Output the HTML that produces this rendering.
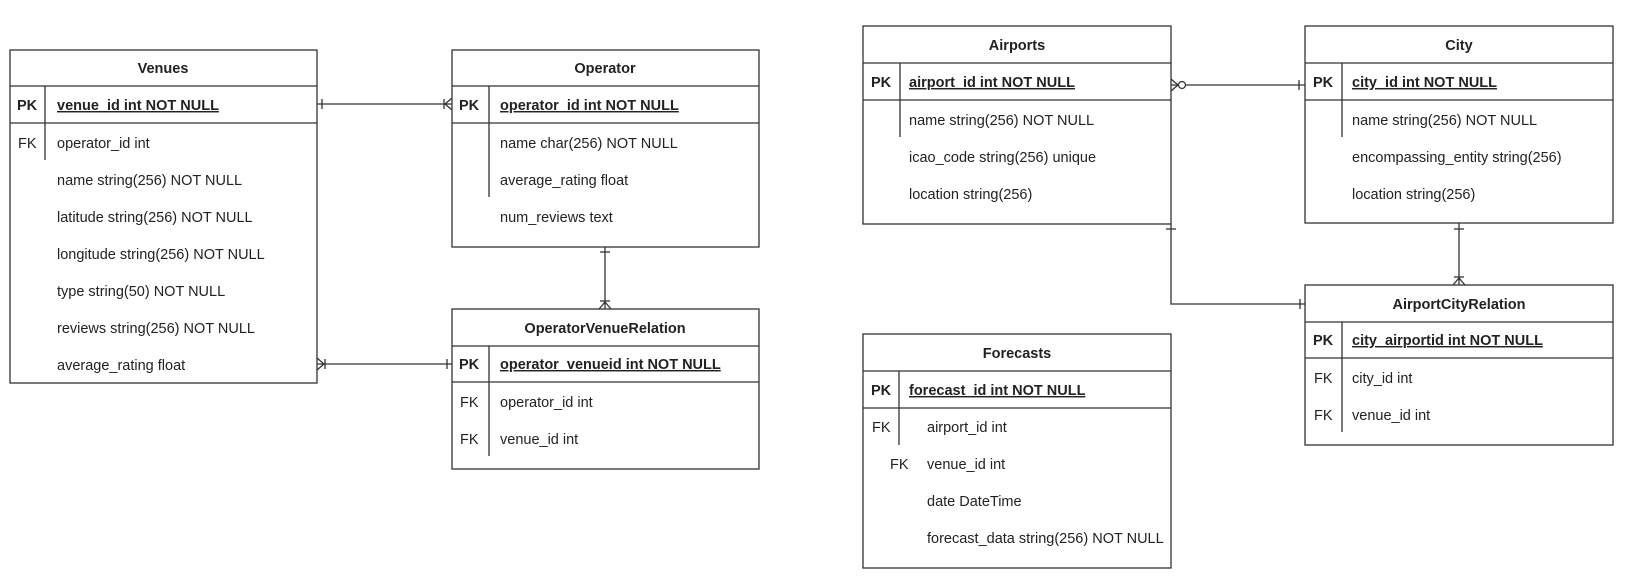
<!DOCTYPE html>
<html><head><meta charset="utf-8"><style>
html,body{margin:0;padding:0;background:#fff;}
svg{display:block;}
text{font-family:"Liberation Sans",Arial,sans-serif;font-size:14.5px;fill:#222;}
.b{font-weight:bold;}
.u{text-decoration:underline;}
</style></head><body>
<svg width="1638" height="580" viewBox="0 0 1638 580" xmlns="http://www.w3.org/2000/svg">
<g fill="none" stroke="#333" stroke-width="1.3">
<rect x="10" y="50" width="307" height="333"/>
<line x1="10" y1="86" x2="317" y2="86"/><line x1="10" y1="123" x2="317" y2="123"/>
<line x1="45" y1="86" x2="45" y2="160"/>
<rect x="452" y="50" width="307" height="197"/>
<line x1="452" y1="86" x2="759" y2="86"/><line x1="452" y1="123" x2="759" y2="123"/>
<line x1="489" y1="86" x2="489" y2="197"/>
<rect x="452" y="309" width="307" height="160"/>
<line x1="452" y1="346" x2="759" y2="346"/><line x1="452" y1="382" x2="759" y2="382"/>
<line x1="489" y1="346" x2="489" y2="456"/>
<rect x="863" y="26" width="308" height="198"/>
<line x1="863" y1="63" x2="1171" y2="63"/><line x1="863" y1="100" x2="1171" y2="100"/>
<line x1="900" y1="63" x2="900" y2="137"/>
<rect x="1305" y="26" width="308" height="197"/>
<line x1="1305" y1="63" x2="1613" y2="63"/><line x1="1305" y1="100" x2="1613" y2="100"/>
<line x1="1342" y1="63" x2="1342" y2="137"/>
<rect x="1305" y="285" width="308" height="160"/>
<line x1="1305" y1="322" x2="1613" y2="322"/><line x1="1305" y1="358" x2="1613" y2="358"/>
<line x1="1342" y1="322" x2="1342" y2="432"/>
<rect x="863" y="334" width="308" height="234"/>
<line x1="863" y1="371" x2="1171" y2="371"/><line x1="863" y1="408" x2="1171" y2="408"/>
<line x1="899" y1="371" x2="899" y2="445"/>

<line x1="317" y1="104" x2="452" y2="104"/>
<line x1="322" y1="99" x2="322" y2="109"/>
<line x1="444" y1="99" x2="444" y2="109"/>
<polyline points="452,98 445,104 452,110"/>

<line x1="605" y1="247" x2="605" y2="309"/>
<line x1="600" y1="252" x2="610" y2="252"/>
<line x1="600" y1="301" x2="610" y2="301"/>
<polyline points="599,309 605,302 611,309"/>

<line x1="317" y1="364" x2="452" y2="364"/>
<polyline points="317,358 324,364 317,370"/>
<line x1="325" y1="359" x2="325" y2="369"/>
<line x1="447" y1="359" x2="447" y2="369"/>

<line x1="1171" y1="85" x2="1305" y2="85"/>
<polyline points="1171,79 1178,85 1171,91"/>
<circle cx="1182" cy="85" r="3.5" fill="#fff"/>
<line x1="1299" y1="80" x2="1299" y2="90"/>

<line x1="1459" y1="223" x2="1459" y2="285"/>
<line x1="1454" y1="229" x2="1464" y2="229"/>
<line x1="1454" y1="277" x2="1464" y2="277"/>
<polyline points="1453,285 1459,278 1465,285"/>

<polyline points="1171,224 1171,304 1305,304"/>
<line x1="1166" y1="229" x2="1176" y2="229"/>
<line x1="1300" y1="299" x2="1300" y2="309"/>
</g>

<text class="b" x="163" y="73" text-anchor="middle">Venues</text>
<text class="b" x="17" y="110">PK</text>
<text class="b u" x="57" y="110">venue_id int NOT NULL</text>
<text x="18" y="148">FK</text>
<text x="57" y="148">operator_id int</text>
<text x="57" y="185">name string(256) NOT NULL</text>
<text x="57" y="222">latitude string(256) NOT NULL</text>
<text x="57" y="259">longitude string(256) NOT NULL</text>
<text x="57" y="296">type string(50) NOT NULL</text>
<text x="57" y="333">reviews string(256) NOT NULL</text>
<text x="57" y="370">average_rating float</text>

<text class="b" x="605" y="73" text-anchor="middle">Operator</text>
<text class="b" x="459" y="110">PK</text>
<text class="b u" x="500" y="110">operator_id int NOT NULL</text>
<text x="500" y="148">name char(256) NOT NULL</text>
<text x="500" y="185">average_rating float</text>
<text x="500" y="222">num_reviews text</text>

<text class="b" x="605" y="333" text-anchor="middle">OperatorVenueRelation</text>
<text class="b" x="459" y="369">PK</text>
<text class="b u" x="500" y="369">operator_venueid int NOT NULL</text>
<text x="460" y="407">FK</text>
<text x="500" y="407">operator_id int</text>
<text x="460" y="444">FK</text>
<text x="500" y="444">venue_id int</text>

<text class="b" x="1017" y="50" text-anchor="middle">Airports</text>
<text class="b" x="871" y="87">PK</text>
<text class="b u" x="909" y="87">airport_id int NOT NULL</text>
<text x="909" y="125">name string(256) NOT NULL</text>
<text x="909" y="162">icao_code string(256) unique</text>
<text x="909" y="199">location string(256)</text>

<text class="b" x="1459" y="50" text-anchor="middle">City</text>
<text class="b" x="1313" y="87">PK</text>
<text class="b u" x="1352" y="87">city_id int NOT NULL</text>
<text x="1352" y="125">name string(256) NOT NULL</text>
<text x="1352" y="162">encompassing_entity string(256)</text>
<text x="1352" y="199">location string(256)</text>

<text class="b" x="1459" y="309" text-anchor="middle">AirportCityRelation</text>
<text class="b" x="1313" y="345">PK</text>
<text class="b u" x="1352" y="345">city_airportid int NOT NULL</text>
<text x="1314" y="383">FK</text>
<text x="1352" y="383">city_id int</text>
<text x="1314" y="420">FK</text>
<text x="1352" y="420">venue_id int</text>

<text class="b" x="1017" y="358" text-anchor="middle">Forecasts</text>
<text class="b" x="871" y="395">PK</text>
<text class="b u" x="909" y="395">forecast_id int NOT NULL</text>
<text x="872" y="432">FK</text>
<text x="927" y="432">airport_id int</text>
<text x="890" y="469">FK</text>
<text x="927" y="469">venue_id int</text>
<text x="927" y="506">date DateTime</text>
<text x="927" y="543">forecast_data string(256) NOT NULL</text>
</svg>
</body></html>
